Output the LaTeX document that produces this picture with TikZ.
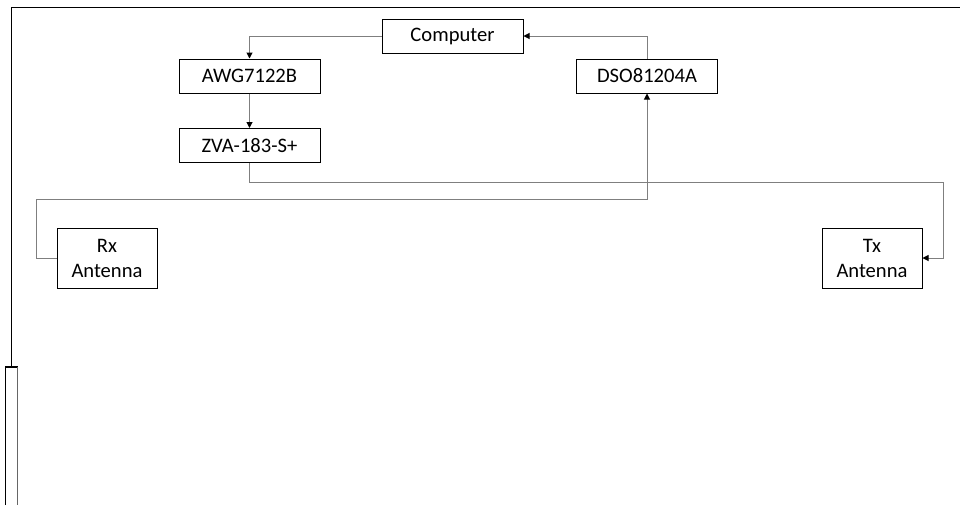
\documentclass[tikz,border=0pt]{standalone}
\usepackage{fontspec}
\setmainfont{Carlito}
\usepackage{xcolor}
\definecolor{wire}{HTML}{7F7F7F}
\definecolor{edge}{HTML}{000000}
\usetikzlibrary{arrows.meta,positioning}
\tikzset{
  >={Triangle[length=3pt,width=3pt,color=black]},
  box/.style={draw=edge,line width=0.5pt,inner sep=1pt,minimum width=70.5pt,minimum height=17pt,align=center,fill=white},
  abox/.style={box,minimum width=50pt,minimum height=30pt},
  arr/.style={->,draw=wire,line width=0.5pt},
  frame/.style={draw=edge,line width=0.7pt},
}
\begin{document}
\begin{tikzpicture}[x=0.5pt,y=-0.5pt,every node/.style={font=\fontsize{10.3}{12.5}\selectfont}]
\useasboundingbox (0,0) rectangle (960,505);
% outer frame
\draw[frame] (960,7.3) -- (11.3,7.3) -- (11.3,367);
\draw[frame] (5.3,505) |- (17.7,367);
\draw[frame,draw=black!60] (17.7,367) -- (17.7,505);
% instruments
\node[box] (comp) at (452.5,36) {Computer};
\node[box] (awg) at (249.5,76) {AWG7122B};
\node[box] (zva) at (249.5,145.5) {ZVA-183-S+};
\node[box] (dso) at (647,76) {DSO81204A};
\node[abox] (rx) at (107,258) {Rx\\Antenna};
\node[abox] (tx) at (872,258) {Tx\\Antenna};
\coordinate (txbend) at (943,182);
\coordinate (rxbend) at (36,199);
% signal paths
\draw[arr] (comp.west) -| (awg.north);
\draw[arr] (awg) -- (zva);
\draw[arr] (zva.south) |- (txbend) |- (tx.east);
\draw[arr] (rx.west) -| (rxbend) -| (dso.south);
\draw[arr] (dso.north) |- (comp.east);
\end{tikzpicture}
\end{document}
